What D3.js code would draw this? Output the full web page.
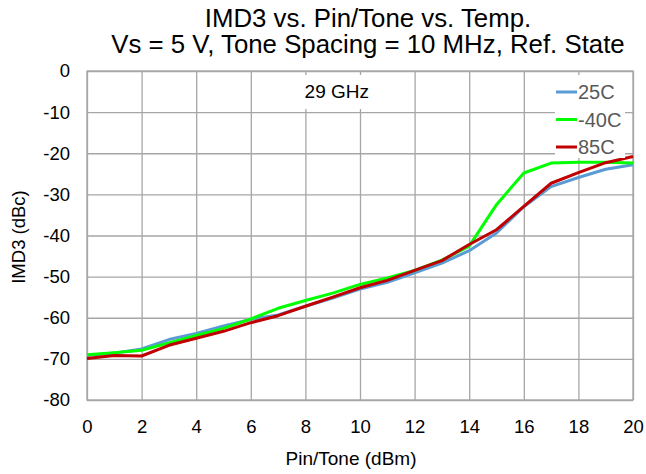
<!DOCTYPE html>
<html>
<head>
<meta charset="utf-8">
<script src="https://cdn.jsdelivr.net/npm/d3@7"></script>
<style>
  body { margin: 0; background: #fff; }
  text { font-family: "Liberation Sans", Arial, sans-serif; }
</style>
</head>
<body>
<div id="chart"></div>
<script>

var pinTone = [0, 1, 2, 3, 4, 5, 6, 7, 8, 9, 10, 11, 12, 13, 14, 15, 16, 17, 18, 19, 20];
var imd3_25C = [-69.2, -68.6, -67.6, -65.3, -63.8, -62.0, -60.4, -59.3, -57.2, -55.2, -53.0,
                -51.4, -49.1, -46.7, -43.7, -39.4, -33.0, -28.1, -25.9, -23.9, -22.8];
var imd3_m40C = [-69.0, -68.5, -67.9, -66.1, -64.3, -62.6, -60.3, -57.7, -55.8, -54.0, -51.9,
                 -50.3, -48.5, -46.0, -42.6, -32.5, -24.8, -22.4, -22.2, -22.2, -22.4];
var imd3_85C = [-69.9, -69.2, -69.3, -66.7, -65.0, -63.3, -61.2, -59.5, -57.2, -55.0, -52.7,
                -50.9, -48.5, -46.1, -42.2, -38.6, -32.9, -27.3, -24.7, -22.3, -20.8];
var seriesNames = ["25C", "-40C", "85C"];
var colors = ["#5b9bd5", "#00ff00", "#c00000"];
var xTicks = [0, 2, 4, 6, 8, 10, 12, 14, 16, 18, 20];
var yTicks = [0, -10, -20, -30, -40, -50, -60, -70, -80];
var titleLines = ["IMD3 vs. Pin/Tone vs. Temp.", "Vs = 5 V, Tone Spacing = 10 MHz, Ref. State"];

var svgWidth = 646;
var svgHeight = 474;
var margin = { top: 71, right: 13, bottom: 74, left: 87 };
var width = svgWidth - margin.left - margin.right;
var height = svgHeight - margin.top - margin.bottom;

var x = d3.scaleLinear().domain([0, 20]).range([0, width]);
var y = d3.scaleLinear().domain([-80, 0]).range([height, 0]);

var svg = d3.select("#chart").append("svg")
    .attr("width", svgWidth)
    .attr("height", svgHeight);

// title
svg.append("g").selectAll("text")
    .data(titleLines)
    .enter().append("text")
        .attr("x", 368)
        .attr("y", function (d, i) { return 27 + i * 26; })
        .attr("text-anchor", "middle")
        .style("font-size", "25.8px")
        .style("fill", "#000")
        .text(function (d) { return d; });

var g = svg.append("g").attr("transform", "translate(" + margin.left + "," + margin.top + ")");

// grid
g.append("g")
    .attr("class", "grid")
    .call(d3.axisBottom(x).tickValues(xTicks).tickSize(height).tickFormat(""))
    .call(function (s) { s.select(".domain").remove(); });
g.append("g")
    .attr("class", "grid")
    .call(d3.axisLeft(y).tickValues(yTicks).tickSize(-width).tickFormat(""))
    .call(function (s) { s.select(".domain").remove(); });
g.selectAll(".grid line").attr("stroke", "#a6a6a6").attr("stroke-width", 1.3);
g.append("rect")
    .attr("width", width)
    .attr("height", height)
    .attr("fill", "none")
    .attr("stroke", "#a6a6a6")
    .attr("stroke-width", 1.3);

// tick labels (plain hyphen minus like the original)
var xAxis = g.append("g")
    .attr("transform", "translate(0," + height + ")")
    .call(d3.axisBottom(x).tickValues(xTicks).tickSize(0).tickPadding(20).tickFormat(String));
var yAxis = g.append("g")
    .call(d3.axisLeft(y).tickValues(yTicks).tickSize(0).tickPadding(17).tickFormat(String));
[xAxis, yAxis].forEach(function (a) {
    a.select(".domain").remove();
    a.selectAll("text")
        .style("font-size", "18.5px")
        .style("font-family", "'Liberation Sans', Arial, sans-serif")
        .attr("fill", "#000");
});

// axis titles
svg.append("text")
    .attr("x", 351)
    .attr("y", 465)
    .attr("text-anchor", "middle")
    .style("font-size", "19px")
    .text("Pin/Tone (dBm)");
svg.append("text")
    .attr("transform", "translate(25,237) rotate(-90)")
    .attr("text-anchor", "middle")
    .style("font-size", "18.5px")
    .text("IMD3 (dBc)");

// lines
var allSeries = [imd3_25C, imd3_m40C, imd3_85C];
var line = d3.line()
    .x(function (d, i) { return x(pinTone[i]); })
    .y(function (d) { return y(d); });

g.selectAll(".series")
    .data(allSeries)
    .enter().append("path")
        .attr("class", "series")
        .attr("d", line)
        .attr("fill", "none")
        .attr("stroke", function (d, i) { return colors[i]; })
        .attr("stroke-width", 3)
        .attr("stroke-linejoin", "round");

// frequency label
g.append("rect")
    .attr("x", x(7.5))
    .attr("y", 4)
    .attr("width", x(10.8) - x(7.5))
    .attr("height", 34)
    .attr("fill", "#fff");
g.append("text")
    .attr("x", x(9.15))
    .attr("y", 27)
    .attr("text-anchor", "middle")
    .style("font-size", "19px")
    .text("29 GHz");

// legend
var legend = g.append("g").attr("transform", "translate(" + (width - 78) + ",4)");
legend.append("rect")
    .attr("width", 70)
    .attr("height", 83)
    .attr("fill", "#fff");
var item = legend.selectAll(".item")
    .data(seriesNames)
    .enter().append("g")
        .attr("class", "item")
        .attr("transform", function (d, i) { return "translate(0," + (17 + i * 27.5) + ")"; });
item.append("line")
    .attr("x1", 1)
    .attr("x2", 22)
    .attr("stroke", function (d, i) { return colors[i]; })
    .attr("stroke-width", 3);
item.append("text")
    .attr("x", 23)
    .attr("y", 7)
    .style("font-size", "20px")
    .style("fill", "#595959")
    .text(function (d) { return d; });

</script>
</body>
</html>
